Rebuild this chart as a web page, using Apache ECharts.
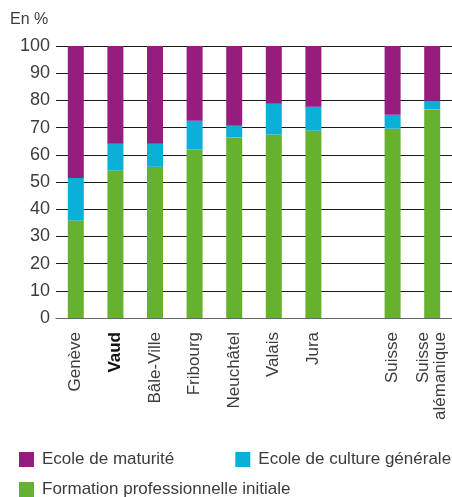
<!DOCTYPE html>
<html>
<head>
<meta charset="utf-8">
<script src="https://cdn.jsdelivr.net/npm/echarts@6/dist/echarts.min.js"></script>
<style>
  html, body { margin: 0; padding: 0; background: #fff; }
  #chart { width: 452px; height: 497px; }
</style>
</head>
<body>
<div id="chart"></div>
<script>
var categories = ['Genève', 'Vaud', 'Bâle-Ville', 'Fribourg', 'Neuchâtel', 'Valais', 'Jura', '', 'Suisse', 'Suisse\nalémanique'];
var formationPro = [35.8, 54.2, 55.6, 61.9, 66.4, 67.4, 68.9, null, 69.6, 76.7];
var cultureGen   = [15.7, 9.9, 8.5, 10.6, 4.3, 11.4, 8.8, null, 5.1, 3.2];
var maturite     = [48.5, 35.9, 35.9, 27.5, 29.3, 21.2, 22.3, null, 25.3, 20.1];
var yTicks = [0, 10, 20, 30, 40, 50, 60, 70, 80, 90, 100];

var font = "'Liberation Sans', Arial, sans-serif";
var textColor = '#3c3c3c';

var chart = echarts.init(document.getElementById('chart'));
var option = {
    animation: false,
    textStyle: { fontFamily: font },
    grid: { left: 56, right: 0, top: 46, bottom: 179, containLabel: false },
    title: {
        text: 'En %',
        left: 5,
        top: 7,
        textStyle: { fontSize: 16, fontWeight: 'normal', color: textColor, fontFamily: font }
    },
    legend: [
        {
            data: ['Ecole de maturité', 'Ecole de culture générale'],
            left: 19, top: 451, padding: 0,
            itemWidth: 15, itemHeight: 15, itemGap: 61,
            icon: 'rect',
            textStyle: { fontSize: 17, color: textColor, fontFamily: font, padding: [0, 0, 0, 3] }
        },
        {
            data: ['Formation professionnelle initiale'],
            left: 19, top: 481, padding: 0,
            itemWidth: 15, itemHeight: 15,
            icon: 'rect',
            textStyle: { fontSize: 17, color: textColor, fontFamily: font, padding: [0, 0, 0, 3] }
        }
    ],
    xAxis: {
        type: 'category',
        data: categories,
        axisTick: { show: false },
        axisLine: { show: true, lineStyle: { color: '#666', width: 1 } },
        axisLabel: {
            rotate: 90,
            margin: 14,
            fontSize: 17,
            color: textColor,
            fontFamily: font,
            interval: 0,
            align: 'right',
            lineHeight: 17,
            formatter: function (v) {
                return v === 'Vaud' ? '{b|' + v + '}' : v;
            },
            rich: { b: { fontWeight: 'bold', fontSize: 17, color: '#111', fontFamily: font } }
        }
    },
    yAxis: {
        type: 'value',
        min: yTicks[0],
        max: yTicks[yTicks.length - 1],
        interval: 10,
        axisLine: { show: false },
        axisTick: { show: false },
        axisLabel: { fontSize: 18, color: textColor, fontFamily: font, margin: 6 },
        splitLine: { lineStyle: { color: '#1a1a1a', width: 1 } }
    },
    series: [
        {
            name: 'Formation professionnelle initiale',
            type: 'bar', stack: 'total', barWidth: 16,
            itemStyle: { color: '#66b22f' },
            data: formationPro
        },
        {
            name: 'Ecole de culture générale',
            type: 'bar', stack: 'total', barWidth: 16,
            itemStyle: { color: '#0bb0d8' },
            data: cultureGen
        },
        {
            name: 'Ecole de maturité',
            type: 'bar', stack: 'total', barWidth: 16,
            itemStyle: { color: '#961d7d' },
            data: maturite
        }
    ]
};
chart.setOption(option);
</script>
</body>
</html>
